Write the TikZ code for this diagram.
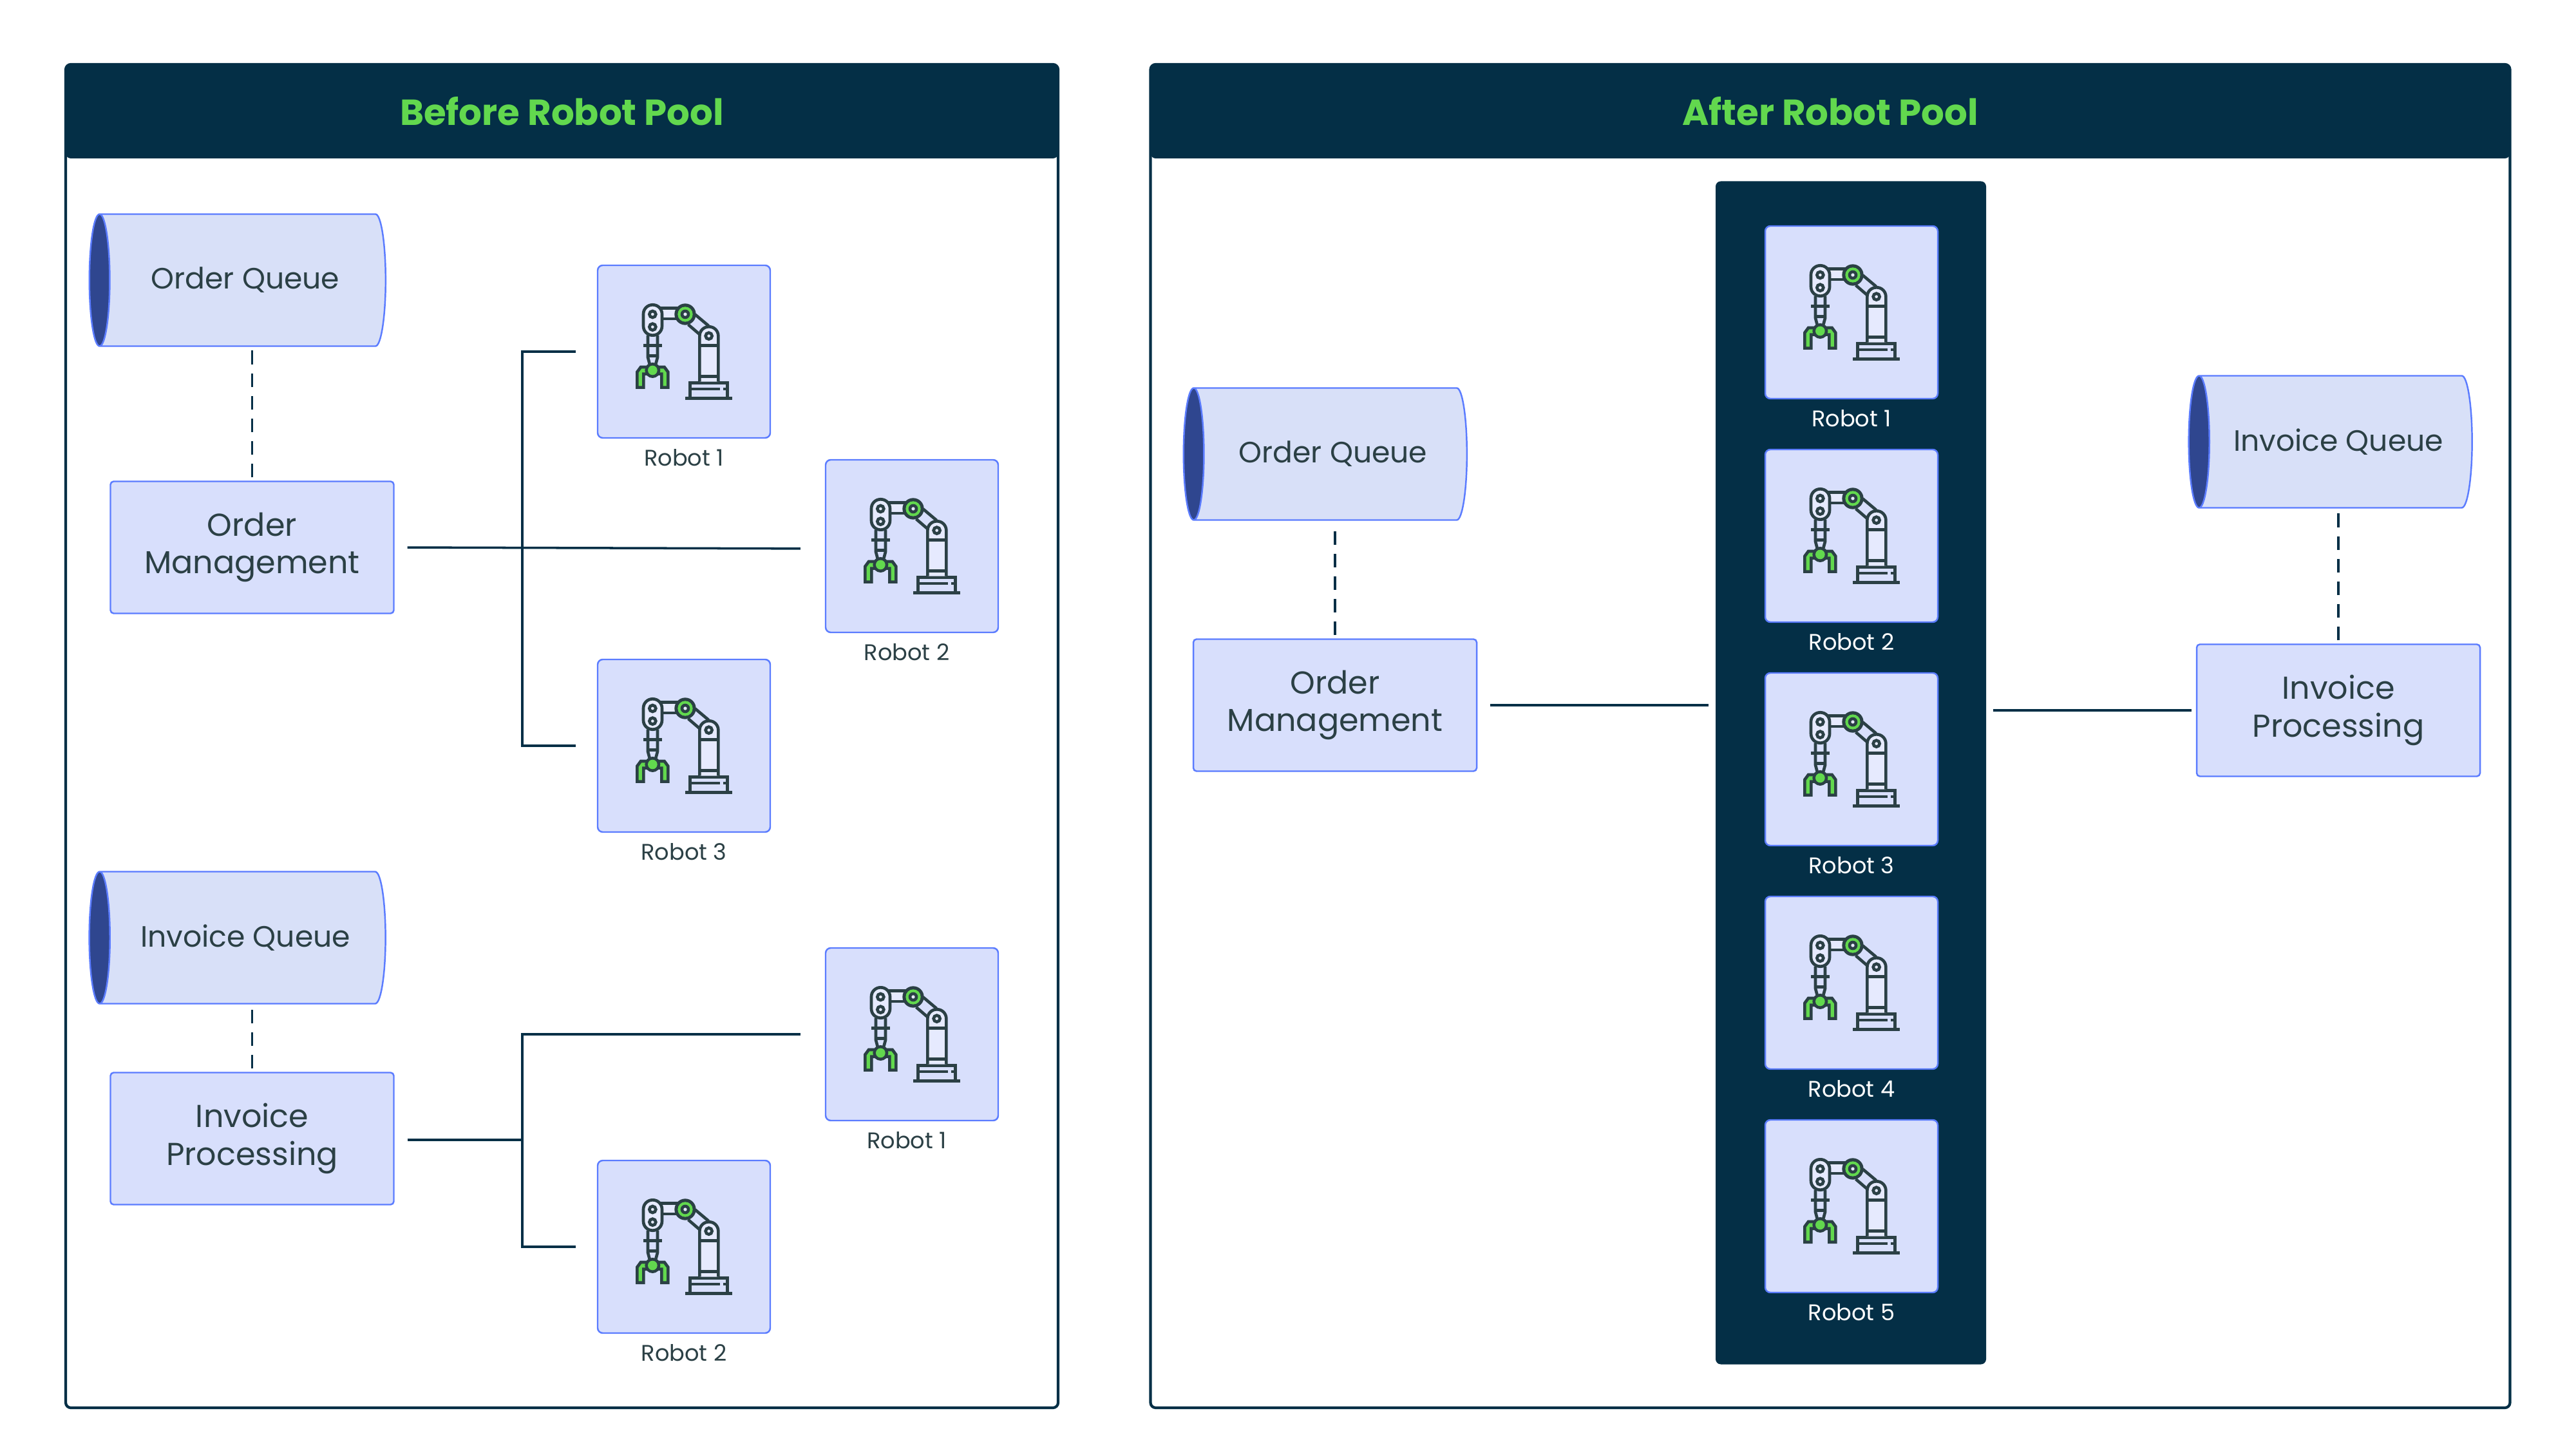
\documentclass[tikz,border=0pt]{standalone}
\usepackage{fontspec}
\setmainfont{Poppins}
\usepackage{xcolor}
\usepackage{tikz}
\usetikzlibrary{arrows.meta, positioning, shapes.geometric}

\definecolor{navy}{HTML}{042F46}
\definecolor{leaf}{HTML}{62D84E}
\definecolor{ink}{HTML}{2B4045}
\definecolor{edge}{HTML}{5B7CFF}
\definecolor{tint}{HTML}{D8DFFC}
\definecolor{tube}{HTML}{D8E0F8}
\definecolor{capfill}{HTML}{2F468F}
\definecolor{iconbg}{HTML}{E6EAFE}

\tikzset{
    robotarm/.pic={
        \begin{scope}[x=1cm/300, y=-1cm/300, shift={(-485,-438)}, line width=1.33pt, draw=ink]
            % Base and column
            \draw (492,656) -- (710,656);
            \draw (514,656) -- (514,583) -- (688,583) -- (688,656);
            \draw (520,612) -- (652,612);
            \draw (668,612) -- (682,612);
            \draw[fill=iconbg, rounded corners=.143cm] (558,578) -- (558,322) -- (645,322) -- (645,578);
            \draw (558,410) -- (645,410);
            \draw (558,553) -- (645,553);
            \draw (601,365) circle[radius=15];
            % Arms
            \draw (537,265) -- (600,318);
            \draw (505,312) -- (555,355);
            \draw[fill=iconbg] (370,236) -- (470,236) -- (470,285) -- (370,285) -- cycle;
            \draw (317,362) -- (317,465) -- (325,495);
            \draw (362,362) -- (362,465) -- (354,495);
            \draw (296,409) -- (384,409);
            \draw (317,458) -- (362,458);
            % Joint and head
            \fill[ink] (491,264) circle[radius=50];
            \fill[leaf] (491,264) circle[radius=35];
            \fill[ink] (491,264) circle[radius=22];
            \fill[iconbg] (491,264) circle[radius=8];
            \draw[fill=iconbg, rounded corners=.143cm] (296,220) rectangle (383,362);
            \draw (339,264) circle[radius=15];
            \draw (339,323) circle[radius=15];
            % Gripper
            \draw[fill=leaf] (267,605) -- (267,533) -- (284,510) -- (320,510) -- (320,542) -- (297,542) -- (297,605) -- cycle;
            \draw[fill=leaf] (411,605) -- (411,533) -- (394,510) -- (358,510) -- (358,542) -- (381,542) -- (381,605) -- cycle;
            \fill[ink] (339,525) circle[radius=36];
            \fill[leaf] (339,525) circle[radius=22];
        \end{scope}
    }
}

\begin{document}
\begin{tikzpicture}[node distance=1.65cm, 
            panel/.style={rectangle, draw=navy, line width=1.2pt, rounded corners=.08cm, fill=white},
            head/.style={rectangle, fill=navy, rounded corners=.08cm, text=leaf, font=\fontsize{16}{19}\selectfont\bfseries},
            robotbox/.style={rectangle, draw=edge, fill=tint, line width=.7pt, rounded corners=.08cm, minimum size=2.68cm},
            rlabel/.style={text=ink, font=\fontsize{10}{12}\selectfont, inner sep=0pt},
            task/.style={rectangle, draw=edge, fill=tint, line width=.7pt, rounded corners=.05cm, minimum width=4.4cm, minimum height=2.05cm, align=center, text=ink, font=\fontsize{14}{16.7}\selectfont},
            queue/.style={cylinder, shape border rotate=180, draw=edge, line width=.7pt, aspect=.5, cylinder uses custom fill, cylinder body fill=tube, cylinder end fill=capfill, minimum width=2.05cm, minimum height=4.6cm, text=ink, font=\fontsize{13}{16}\selectfont},
            link/.style={draw=navy, line width=1pt},
            wait/.style={draw=navy, line width=1pt, dash pattern=on 6pt off 4pt}]

        \useasboundingbox (0,0) rectangle (40,-22.5);

        % Panels
        \node[panel, minimum width=15.41cm, minimum height=20.86cm] (before) at (8.725,-11.43) {};
        \node[head, minimum width=15.41cm, minimum height=1.46cm] (beforehead) at (8.725,-1.73) {Before Robot Pool};
        \node[panel, minimum width=21.11cm, minimum height=20.86cm] (after) at (28.42,-11.43) {};
        \node[head, minimum width=21.11cm, minimum height=1.46cm] (afterhead) at (28.42,-1.73) {After Robot Pool};

        % Before: order side
        \node[queue] (oq) at (3.81,-4.35) {Order Queue};
        \node[task] (om) at (3.915,-8.5) {Order\\Management};
        \node[robotbox] (or1) at (10.62,-5.46) {};
        \node[robotbox] (or2) at (14.16,-8.48) {};
        \node[robotbox] (or3) at (10.62,-11.58) {};
        \node[rlabel, below of=or1] (or1l) {Robot 1};
        \node[rlabel, below of=or2, xshift=-.08cm] (or2l) {Robot 2};
        \node[rlabel, below of=or3] (or3l) {Robot 3};
        \coordinate (omj) at (8.11,-8.52);

        % Before: invoice side
        \node[queue] (iq) at (3.81,-14.56) {Invoice Queue};
        \node[task] (ip) at (3.915,-17.68) {Invoice\\Processing};
        \node[robotbox] (ir1) at (14.16,-16.06) {};
        \node[robotbox] (ir2) at (10.62,-19.36) {};
        \node[rlabel, below of=ir1, xshift=-.08cm] (ir1l) {Robot 1};
        \node[rlabel, below of=ir2] (ir2l) {Robot 2};
        \coordinate (ipj) at (8.11,-17.7);

        % After: pool
        \node[rectangle, fill=navy, rounded corners=.08cm, minimum width=4.2cm, minimum height=18.37cm] (pool) at (28.74,-12) {};
        \node[robotbox] (p1) at (28.75,-4.85) {};
        \node[robotbox, below of=p1, node distance=3.47cm] (p2) {};
        \node[robotbox, below of=p2, node distance=3.47cm] (p3) {};
        \node[robotbox, below of=p3, node distance=3.47cm] (p4) {};
        \node[robotbox, below of=p4, node distance=3.47cm] (p5) {};
        \node[rlabel, text=white, below of=p1] (p1l) {Robot 1};
        \node[rlabel, text=white, below of=p2] (p2l) {Robot 2};
        \node[rlabel, text=white, below of=p3] (p3l) {Robot 3};
        \node[rlabel, text=white, below of=p4] (p4l) {Robot 4};
        \node[rlabel, text=white, below of=p5] (p5l) {Robot 5};

        % After: queues and tasks
        \node[queue, minimum height=4.4cm] (oqb) at (20.7,-7.05) {Order Queue};
        \node[task] (omb) at (20.73,-10.95) {Order\\Management};
        \node[queue, minimum height=4.4cm] (iqb) at (36.31,-6.86) {Invoice Queue};
        \node[task] (ipb) at (36.31,-11.03) {Invoice\\Processing};

        % Icons
        \pic at (or1) {robotarm};
        \pic at (or2) {robotarm};
        \pic at (or3) {robotarm};
        \pic at (ir1) {robotarm};
        \pic at (ir2) {robotarm};
        \pic at (p1) {robotarm};
        \pic at (p2) {robotarm};
        \pic at (p3) {robotarm};
        \pic at (p4) {robotarm};
        \pic at (p5) {robotarm};

        % Edges
        \draw[wait, shorten <=.05cm, shorten >=.05cm] (om.north) -- (om.north |- oq.south);
        \draw[wait, shorten <=.05cm, shorten >=.05cm] (ip.north) -- (ip.north |- iq.south);
        \draw[wait, shorten <=.05cm, shorten >=.05cm] (omb.north) -- (omb.north |- oqb.south);
        \draw[wait, shorten <=.05cm, shorten >=.05cm] (ipb.north) -- (ipb.north |- iqb.south);

        \draw[link, shorten <=.2cm, shorten >=.38cm] (om.east) -- (or2.west |- omj);
        \draw[link, shorten >=.33cm] (omj) |- (or1.west);
        \draw[link, shorten >=.33cm] (omj) |- (or3.west);

        \draw[link, shorten <=.2cm] (ip.east |- ipj) -- (ipj);
        \draw[link, shorten >=.38cm] (ipj) |- (ir1.west);
        \draw[link, shorten >=.33cm] (ipj) |- (ir2.west);

        \draw[link, shorten <=.2cm, shorten >=.1cm] (omb.east) -- (pool.west |- omb.east);
        \draw[link, shorten <=.1cm, shorten >=.07cm] (pool.east |- ipb.west) -- (ipb.west);
    \end{tikzpicture}
\end{document}
